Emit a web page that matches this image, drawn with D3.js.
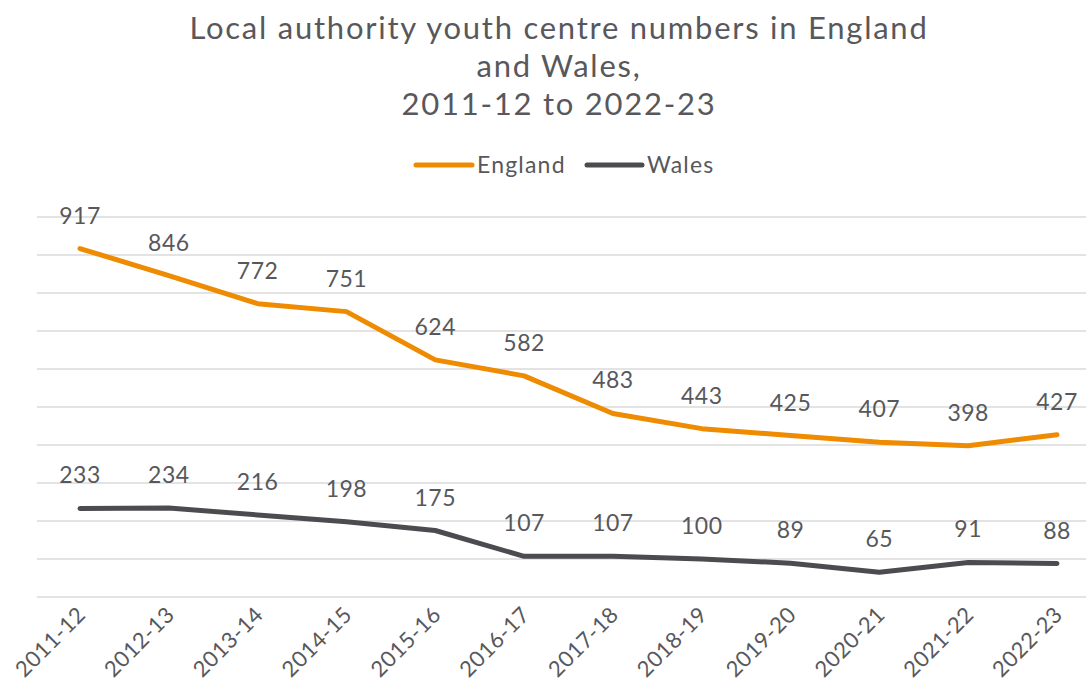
<!DOCTYPE html>
<html><head><meta charset="utf-8">
<script src="https://cdn.jsdelivr.net/npm/d3@7"></script>
<style>body{margin:0;background:#fff}svg{display:block}text{font-family:Lato,"Open Sans",sans-serif;fill:#58585c}</style>
</head><body>
<svg id="c" width="1086" height="693"></svg>
<script>
const years = ["2011-12","2012-13","2013-14","2014-15","2015-16","2016-17","2017-18","2018-19","2019-20","2020-21","2021-22","2022-23"];
const england = [917,846,772,751,624,582,483,443,425,407,398,427];
const wales = [233,234,216,198,175,107,107,100,89,65,91,88];
const yTicks = [0,100,200,300,400,500,600,700,800,900,1000];
const titleLines = ["Local authority youth centre numbers in England","and Wales,","2011-12 to 2022-23"];

const svg = d3.select("#c");
const x = d3.scalePoint().domain(years).range([80,1057]);
const y = d3.scaleLinear().domain([0,1000]).range([597,217]);

svg.append("g").selectAll("line").data(yTicks).join("line")
  .attr("x1",37).attr("x2",1086).attr("y1",d=>y(d)).attr("y2",d=>y(d))
  .attr("stroke","#e3e3e3").attr("stroke-width",2);

svg.append("g").selectAll("text").data(titleLines).join("text")
  .attr("x",559).attr("y",(d,i)=>39+i*38).attr("text-anchor","middle")
  .attr("font-size",31).attr("letter-spacing",1.75).text(d=>d);

const series = [{name:"England",vals:england,color:"#ee8b00"},{name:"Wales",vals:wales,color:"#4c4c50"}];
const line = d3.line().x((d,i)=>x(years[i])).y(d=>y(d));
series.forEach(s=>{
  svg.append("path").attr("d",line(s.vals)).attr("fill","none").attr("stroke",s.color)
    .attr("stroke-width",5).attr("stroke-linecap","round").attr("stroke-linejoin","round");
  svg.append("g").selectAll("text").data(s.vals).join("text")
    .attr("x",(d,i)=>x(years[i])).attr("y",d=>y(d)-25).attr("text-anchor","middle")
    .attr("font-size",23).attr("letter-spacing",0.5).text(d=>d);
});

// legend
const leg = [{name:"England",color:"#ee8b00",x:416,w:56},{name:"Wales",color:"#4c4c50",x:587,w:55}];
leg.forEach(l=>{
  svg.append("line").attr("x1",l.x).attr("x2",l.x+l.w).attr("y1",165).attr("y2",165)
    .attr("stroke",l.color).attr("stroke-width",5).attr("stroke-linecap","round");
  svg.append("text").attr("x",l.x+l.w+5).attr("y",173).attr("font-size",23).attr("letter-spacing",1.2).text(l.name);
});

// x axis labels
svg.append("g").selectAll("text").data(years).join("text")
  .attr("transform",d=>`translate(${x(d)+7},${616}) rotate(-45)`)
  .attr("text-anchor","end").attr("font-size",22).attr("letter-spacing",0.5).text(d=>d);
</script>
</body></html>
